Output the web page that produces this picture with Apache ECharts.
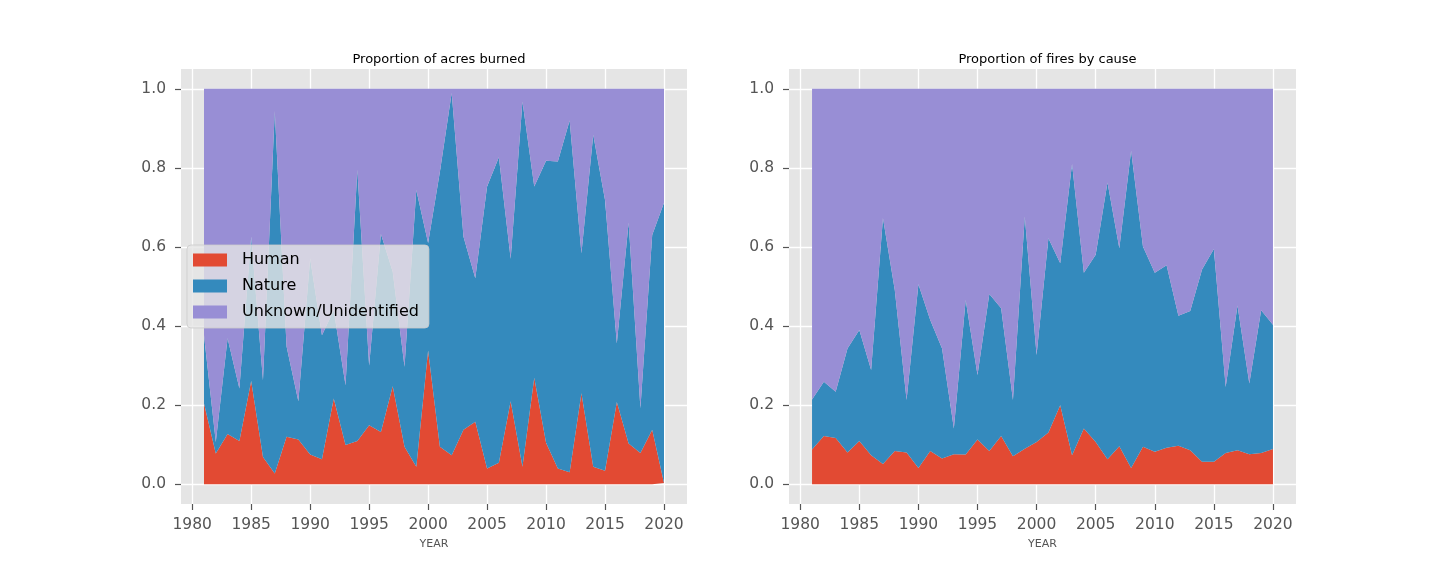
<!DOCTYPE html>
<html>
<head>
<meta charset="utf-8">
<script src="https://cdn.jsdelivr.net/npm/echarts@6/dist/echarts.min.js"></script>
<style>html,body{margin:0;padding:0;background:#fff}#c{width:1440px;height:576px}</style>
</head>
<body>
<div id="c"></div>
<script>
const years = [1981,1982,1983,1984,1985,1986,1987,1988,1989,1990,1991,1992,1993,1994,1995,1996,1997,1998,1999,2000,
               2001,2002,2003,2004,2005,2006,2007,2008,2009,2010,2011,2012,2013,2014,2015,2016,2017,2018,2019,2020];
const xTicks = [1980,1985,1990,1995,2000,2005,2010,2015,2020];
const yTicks = [0,0.2,0.4,0.6,0.8,1.0];
const seriesNames = ['Human','Nature','Unknown/Unidentified'];
const titles = ['Proportion of acres burned','Proportion of fires by cause'];

const acresHuman = [0.204,0.078,0.127,0.109,0.261,0.069,0.027,0.120,0.113,0.075,0.063,0.217,0.099,0.109,0.149,0.132,0.248,0.095,0.044,0.338,
                    0.095,0.073,0.138,0.158,0.040,0.054,0.210,0.044,0.269,0.105,0.040,0.030,0.230,0.044,0.034,0.208,0.103,0.079,0.138,0.003];
const acresNature = [0.173,0.029,0.242,0.133,0.365,0.194,0.916,0.228,0.097,0.496,0.314,0.223,0.151,0.686,0.151,0.501,0.289,0.202,0.700,0.272,
                     0.695,0.916,0.488,0.363,0.713,0.773,0.360,0.924,0.484,0.713,0.776,0.890,0.354,0.840,0.685,0.148,0.559,0.113,0.492,0.709];
const acresUnknown = [0.623,0.893,0.631,0.758,0.374,0.737,0.057,0.652,0.790,0.429,0.623,0.560,0.750,0.205,0.700,0.367,0.463,0.703,0.256,0.390,
                      0.210,0.011,0.374,0.479,0.247,0.173,0.430,0.032,0.247,0.182,0.184,0.080,0.416,0.116,0.281,0.644,0.338,0.808,0.370,0.288];

const firesHuman = [0.088,0.122,0.117,0.080,0.109,0.073,0.051,0.084,0.080,0.041,0.084,0.065,0.076,0.075,0.113,0.084,0.122,0.071,0.090,0.107,
                    0.131,0.200,0.073,0.141,0.107,0.063,0.096,0.041,0.095,0.082,0.092,0.097,0.086,0.057,0.057,0.079,0.086,0.076,0.079,0.089];
const firesNature = [0.126,0.137,0.117,0.263,0.281,0.216,0.622,0.407,0.133,0.465,0.331,0.278,0.065,0.391,0.163,0.397,0.323,0.142,0.587,0.220,
                     0.491,0.359,0.737,0.394,0.473,0.700,0.501,0.802,0.506,0.453,0.462,0.329,0.352,0.486,0.538,0.167,0.366,0.179,0.361,0.314];
const firesUnknown = [0.786,0.741,0.766,0.657,0.610,0.711,0.327,0.509,0.787,0.494,0.585,0.657,0.859,0.534,0.724,0.519,0.555,0.787,0.323,0.673,
                      0.378,0.441,0.190,0.465,0.420,0.237,0.403,0.157,0.399,0.465,0.446,0.574,0.562,0.457,0.405,0.754,0.548,0.745,0.560,0.597];

const colors = ['#E24A33','#348ABD','#988ED5'];
// value first so that stacking happens on the y dimension
const pairs = arr => arr.map((v, i) => [v, years[i]]);

const grids = [
  {left: 181, width: 506, top: 69, height: 435},
  {left: 789, width: 507, top: 69, height: 435}
];

function xAxis(i) {
  return {
    type: 'value', gridIndex: i, min: 1979.05, max: 2021.95,
    name: 'YEAR', nameLocation: 'middle', nameGap: 35,
    nameTextStyle: {color: '#555555', fontSize: 11, fontFamily: 'DejaVu Sans'},
    axisLine: {show: false, onZero: false},
    axisTick: {show: true, length: 6, customValues: xTicks, lineStyle: {color: '#555555', width: 1.2}},
    axisLabel: {customValues: xTicks, margin: 13, color: '#555555', fontSize: 15.5, fontFamily: 'DejaVu Sans', formatter: v => String(v)},
    splitLine: {show: true, lineStyle: {color: '#ffffff', width: 1.3}}
  };
}
function yAxis(i) {
  return {
    type: 'value', gridIndex: i, min: -0.05, max: 1.05,
    axisLine: {show: false, onZero: false},
    axisTick: {show: true, length: 6, customValues: yTicks, lineStyle: {color: '#555555', width: 1.2}},
    axisLabel: {customValues: yTicks, margin: 15, color: '#555555', fontSize: 15.5, fontFamily: 'DejaVu Sans', formatter: v => v.toFixed(1)},
    splitLine: {show: true, lineStyle: {color: '#ffffff', width: 1.3}}
  };
}

const dataSets = [[acresHuman, acresNature, acresUnknown], [firesHuman, firesNature, firesUnknown]];
const series = [];
dataSets.forEach((set, gi) => {
  set.forEach((arr, si) => {
    series.push({
      name: seriesNames[si], type: 'line', xAxisIndex: gi, yAxisIndex: gi,
      stack: 'stack' + gi, data: pairs(arr), encode: {x: 1, y: 0},
      showSymbol: false, symbol: 'none',
      lineStyle: {width: 0, opacity: 0}, color: colors[si],
      areaStyle: {color: colors[si], opacity: 1}, emphasis: {disabled: true}
    });
  });
});

const chart = echarts.init(document.getElementById('c'), null, {renderer: 'canvas'});
chart.setOption({
  animation: false,
  backgroundColor: '#ffffff',
  title: grids.map((g, i) => ({
    text: titles[i], left: g.left + g.width / 2, top: 48, textAlign: 'center',
    textStyle: {fontSize: 13, fontWeight: 'normal', color: '#000000', fontFamily: 'DejaVu Sans'}
  })),
  grid: grids.map(g => Object.assign({show: true, backgroundColor: '#E5E5E5', borderWidth: 0}, g)),
  xAxis: [xAxis(0), xAxis(1)],
  yAxis: [yAxis(0), yAxis(1)],
  legend: {
    data: seriesNames, orient: 'vertical', left: 187, top: 245,
    icon: 'rect', itemWidth: 34, itemHeight: 13, itemGap: 6,
    padding: [5, 10, 6, 6],
    backgroundColor: 'rgba(229,229,229,0.8)', borderColor: 'rgba(204,204,204,0.8)', borderWidth: 1, borderRadius: 4,
    selectedMode: false,
    textStyle: {fontSize: 16, color: '#000000', fontFamily: 'DejaVu Sans', lineHeight: 20, padding: [0, 0, 0, 10]}
  },
  series: series
});
</script>
</body>
</html>
